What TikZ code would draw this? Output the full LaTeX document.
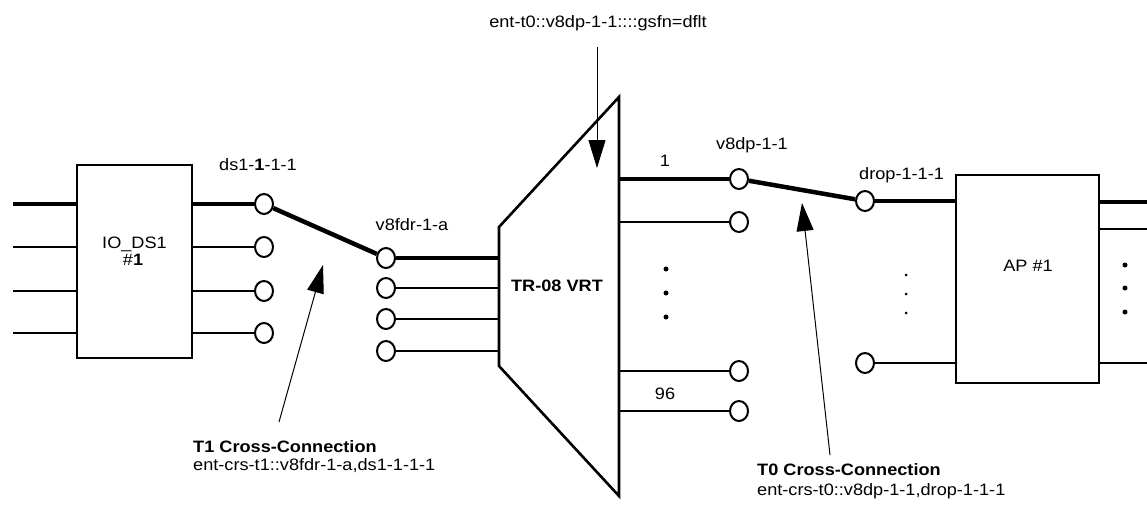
\documentclass[tikz,border=0pt]{standalone}
\usepackage{fontspec}
\setmainfont[FakeStretch=1.1]{Liberation Sans}
\usetikzlibrary{shapes.geometric,arrows.meta}

\begin{document}
\begin{tikzpicture}[x=1pt,y=-1pt,
  lbl/.style={font=\fontsize{16.5}{19}\selectfont, inner sep=0pt},
  blbl/.style={font=\fontsize{16.5}{19}\selectfont\bfseries, inner sep=0pt},
  port/.style={ellipse, draw, line width=2pt, fill=white,
    minimum width=18pt, minimum height=20pt, inner sep=0pt},
  unit/.style={draw, line width=2.8pt, inner sep=0pt},
  trunk/.style={line width=4.5pt},
  wire/.style={line width=2.2pt},
  pointer/.style={line width=1pt, -{Triangle[length=28pt,width=17pt]}},
  bigdot/.style={circle, fill, inner sep=0pt, minimum size=5pt},
  smalldot/.style={circle, fill, inner sep=0pt, minimum size=3pt}
]
\useasboundingbox (0,0) rectangle (1147,504);

% ---------- IO_DS1 card ----------
\node[unit, minimum width=115pt, minimum height=193pt] (io) at (134.5,261.5) {};
\node[lbl, anchor=base] (ioname) at (134.5,248) {IO\_DS1};
\node[lbl, anchor=base] (ionum) at (133,265) {\#\textbf{1}};

\coordinate (inA) at (13,204);
\coordinate (inB) at (13,247);
\coordinate (inC) at (13,291);
\coordinate (inD) at (13,333);
\draw[trunk] (inA) -- (io.west |- inA);
\draw[wire] (inB) -- (io.west |- inB);
\draw[wire] (inC) -- (io.west |- inC);
\draw[wire] (inD) -- (io.west |- inD);

\node[port] (d1) at (264,204) {};
\node[port] (d2) at (264,247) {};
\node[port] (d3) at (264,291) {};
\node[port] (d4) at (264,333) {};
\draw[trunk] (io.east |- d1) -- (d1);
\draw[wire] (io.east |- d2) -- (d2);
\draw[wire] (io.east |- d3) -- (d3);
\draw[wire] (io.east |- d4) -- (d4);
\node[lbl, anchor=base] (ds1lbl) at (258,170) {ds1-\textbf{1}-1-1};

% ---------- VRT feeder ports ----------
\node[port] (f1) at (386,258) {};
\node[port] (f2) at (386,288) {};
\node[port] (f3) at (386,319) {};
\node[port] (f4) at (386,351) {};
\node[lbl, anchor=base] (fdrlbl) at (412,230) {v8fdr-1-a};

% T1 cross-connection
\draw[trunk] (d1) -- (f1);

% ---------- TR-08 VRT ----------
\coordinate (vA) at (499,227);
\coordinate (vB) at (619,97);
\coordinate (vC) at (619,496);
\coordinate (vD) at (499,366);
\draw[line width=2.6pt, line join=miter] (vA) -- (vB) -- (vC) -- (vD) -- cycle;
\node[blbl, anchor=base] (vrt) at (557,291) {TR-08 VRT};

\draw[trunk] (f1) -- (f1 -| vA);
\draw[wire] (f2) -- (f2 -| vA);
\draw[wire] (f3) -- (f3 -| vA);
\draw[wire] (f4) -- (f4 -| vA);

\node[port] (v1) at (739,179) {};
\node[port] (v2) at (739,222) {};
\node[port] (v3) at (739,371) {};
\node[port] (v4) at (739,411) {};
\draw[trunk] (vB |- v1) -- (v1);
\draw[wire] (vB |- v2) -- (v2);
\draw[wire] (vB |- v3) -- (v3);
\draw[wire] (vB |- v4) -- (v4);
\node[lbl, anchor=base] (n1) at (665,166) {1};
\node[lbl, anchor=base] (n96) at (665,399) {96};
\node[bigdot] (vd1) at (666,269) {};
\node[bigdot] (vd2) at (666,293) {};
\node[bigdot] (vd3) at (666,317) {};
\node[lbl, anchor=base] (dplbl) at (752,149) {v8dp-1-1};

% ---------- AP #1 ----------
\node[port] (p1) at (865,201) {};
\node[port] (p2) at (865,363) {};
\node[lbl, anchor=base west] (droplbl) at (859,179) {drop-1-1-1};

% T0 cross-connection
\draw[trunk] (v1) -- (p1);

\node[unit, minimum width=143pt, minimum height=208pt] (ap) at (1027.5,279) {};
\node[lbl, anchor=base] (aplbl) at (1028,271) {AP \#1};
\draw[trunk] (p1) -- (ap.west |- p1);
\draw[wire] (p2) -- (ap.west |- p2);
\node[smalldot] (ad1) at (906,275) {};
\node[smalldot] (ad2) at (906,294) {};
\node[smalldot] (ad3) at (906,313) {};

\coordinate (outA) at (1147,202);
\coordinate (outB) at (1147,229);
\coordinate (outC) at (1147,363);
\draw[trunk] (ap.east |- outA) -- (outA);
\draw[wire] (ap.east |- outB) -- (outB);
\draw[wire] (ap.east |- outC) -- (outC);
\node[bigdot] (od1) at (1125,265) {};
\node[bigdot] (od2) at (1125,288) {};
\node[bigdot] (od3) at (1125,312) {};

% ---------- command callouts ----------
\node[lbl, anchor=base] (prov) at (598,27) {ent-t0::v8dp-1-1::::gsfn=dflt};
\coordinate (provTail) at (597,47);
\coordinate (provTip) at (597,168);
\draw[pointer] (provTail) -- (provTip);

\node[blbl, anchor=base west] (t1head) at (193,452) {T1 Cross-Connection};
\node[lbl, anchor=base west] (t1cmd) at (193,470) {ent-crs-t1::v8fdr-1-a,ds1-1-1-1};
\coordinate (t1Tail) at (279,422);
\coordinate (t1Tip) at (323,265);
\draw[pointer] (t1Tail) -- (t1Tip);

\node[blbl, anchor=base west] (t0head) at (757,475) {T0 Cross-Connection};
\node[lbl, anchor=base west] (t0cmd) at (757,495) {ent-crs-t0::v8dp-1-1,drop-1-1-1};
\coordinate (t0Tail) at (830,455);
\coordinate (t0Tip) at (802,203);
\draw[pointer] (t0Tail) -- (t0Tip);
\end{tikzpicture}
\end{document}
